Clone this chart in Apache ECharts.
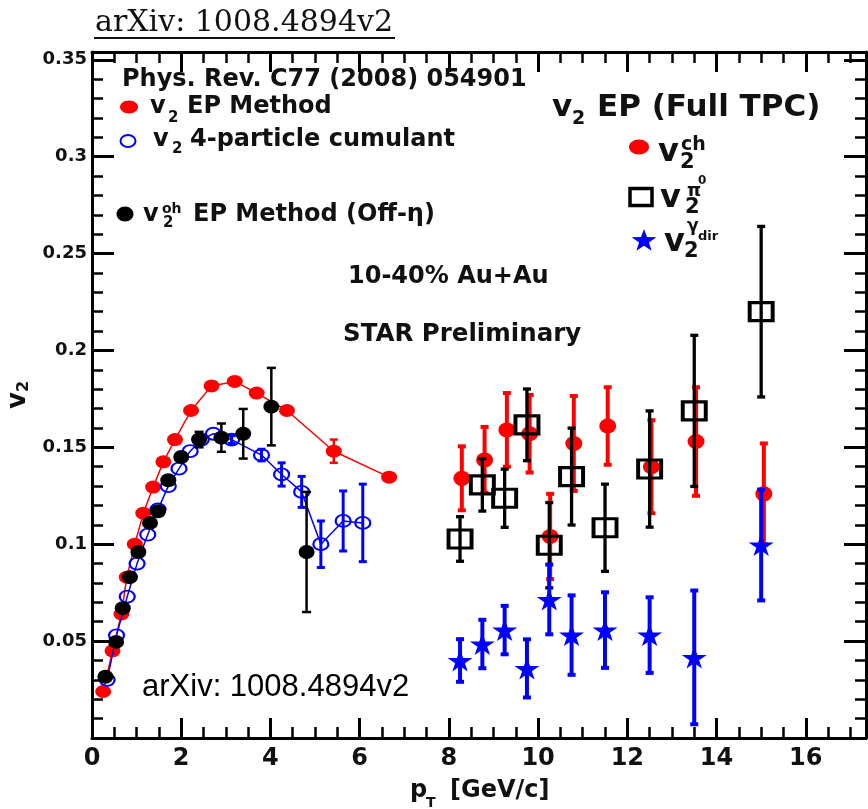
<!DOCTYPE html>
<html>
<head>
<meta charset="utf-8">
<script src="https://cdn.jsdelivr.net/npm/echarts@6/dist/echarts.min.js"></script>
<style>
  html, body { margin: 0; padding: 0; background: #fff; }
  #chart { width: 868px; height: 809px; }
</style>
</head>
<body>
<div id="chart"></div>
<script>
// v2 EP method, charged hadrons (Phys. Rev. C77 054901)
const epPt  = [0.25, 0.46, 0.66, 0.78, 0.96, 1.15, 1.37, 1.60, 1.86, 2.22, 2.68, 3.20, 3.69, 4.37, 5.42, 6.66];
const epV2  = [0.024, 0.045, 0.064, 0.083, 0.100, 0.116, 0.1295, 0.1425, 0.154, 0.169, 0.1817, 0.184, 0.178, 0.169, 0.148, 0.1346];
const epErr = [0, 0, 0, 0, 0, 0, 0, 0, 0, 0, 0, 0, 0, 0, 0.006, 0];

// v2 4-particle cumulant
const cumPt  = [0.34, 0.55, 0.79, 1.01, 1.25, 1.48, 1.71, 1.95, 2.20, 2.45, 2.72, 3.13, 3.80, 4.25, 4.70, 5.13, 5.63, 6.07];
const cumV2  = [0.030, 0.053, 0.073, 0.090, 0.105, 0.118, 0.130, 0.139, 0.148, 0.154, 0.157, 0.154, 0.146, 0.136, 0.127, 0.100, 0.112, 0.111];
const cumErr = [0, 0, 0, 0, 0, 0, 0, 0, 0, 0, 0, 0.002, 0.003, 0.006, 0.008, 0.012, 0.0155, 0.020];

// v2^oh EP method (off-eta)
const ohPt  = [0.30, 0.54, 0.69, 0.85, 1.04, 1.30, 1.48, 1.71, 2.00, 2.40, 2.90, 3.39, 4.02, 4.81];
const ohV2  = [0.0316, 0.0496, 0.067, 0.083, 0.096, 0.111, 0.117, 0.133, 0.145, 0.154, 0.155, 0.157, 0.171, 0.096];
const ohErr = [0, 0, 0, 0, 0, 0, 0, 0, 0, 0.004, 0.0073, 0.0128, 0.020, 0.031];

// v2 EP (full TPC): charged hadrons
const chPt  = [8.29, 8.80, 9.30, 9.81, 10.27, 10.80, 11.56, 12.54, 13.54, 15.06];
const chV2  = [0.134, 0.1435, 0.159, 0.157, 0.104, 0.152, 0.161, 0.140, 0.153, 0.126];
const chErr = [0.0165, 0.017, 0.019, 0.020, 0.022, 0.0245, 0.020, 0.024, 0.028, 0.026];

// v2 EP (full TPC): neutral pions
const pi0Pt  = [8.25, 8.75, 9.25, 9.75, 10.25, 10.75, 11.5, 12.5, 13.5, 15.0];
const pi0V2  = [0.1027, 0.1306, 0.1237, 0.1616, 0.0995, 0.1349, 0.1085, 0.1388, 0.1688, 0.220];
const pi0Err = [0.0115, 0.0135, 0.015, 0.0185, 0.022, 0.025, 0.0225, 0.030, 0.039, 0.044];

// v2 EP (full TPC): direct photons
const gamPt  = [8.25, 8.75, 9.25, 9.75, 10.25, 10.75, 11.5, 12.5, 13.5, 15.0];
const gamV2  = [0.040, 0.0485, 0.0557, 0.0359, 0.0715, 0.0531, 0.0557, 0.0531, 0.0416, 0.0996];
const gamErr = [0.011, 0.0125, 0.0125, 0.015, 0.018, 0.0205, 0.0195, 0.0195, 0.0345, 0.0286];

// axis ranges and tick steps
const X_MIN = 0, X_MAX = 17.35, X_MAJOR = 2, X_MINOR = 0.5;
const Y_MIN = 0, Y_MAX = 0.354, Y_MAJOR = 0.05, Y_MINOR = 0.01;

const SANS = '"DejaVu Sans"';
const RED = '#ff0000', BLUE = '#0000ff', BLACK = '#000000', INK = '#111111';
const STAR = 'path://M50,0 L61.8,35.1 L97.6,35.1 L68.5,56.8 L79.4,90.9 L50,69.5 L20.6,90.9 L31.5,56.8 L2.4,35.1 L38.2,35.1 Z';

const zip2 = (a, b) => a.map((v, i) => [v, b[i]]);
const zip3 = (a, b, c) => a.map((v, i) => [v, b[i], c[i]]);

function xAxis(pos, step, len, labels, line, tickW) {
  return {
    type: 'value', position: pos, min: X_MIN, max: X_MAX, interval: step,
    axisLine: { show: line, onZero: false, lineStyle: { color: BLACK, width: 3 } },
    axisTick: { show: true, inside: true, length: len, lineStyle: { color: BLACK, width: tickW } },
    axisLabel: {
      show: labels, showMaxLabel: false, margin: 9,
      fontFamily: SANS, fontWeight: 'bold', fontSize: 24, color: INK
    },
    splitLine: { show: false }
  };
}
function yAxis(pos, step, len, labels, line, tickW) {
  return {
    type: 'value', position: pos, min: Y_MIN, max: Y_MAX, interval: step,
    axisLine: { show: line, onZero: false, lineStyle: { color: BLACK, width: 3 } },
    axisTick: { show: true, inside: true, length: len, lineStyle: { color: BLACK, width: tickW } },
    axisLabel: {
      show: labels, showMinLabel: false, showMaxLabel: false, margin: 5,
      fontFamily: SANS, fontWeight: 'bold', fontSize: 18, color: INK
    },
    splitLine: { show: false }
  };
}

// vertical error bars with small caps
function errorBars(name, pts, vals, errs, color, width, cap, z) {
  return {
    type: 'custom', name, z,
    data: zip3(pts, vals, errs),
    encode: { x: 0, y: 1 },
    renderItem: function (params, api) {
      const x = api.value(0), y = api.value(1), e = api.value(2);
      if (!e) return null;
      const top = api.coord([x, y + e]);
      const bot = api.coord([x, y - e]);
      const st = { stroke: color, lineWidth: width };
      return {
        type: 'group',
        children: [
          { type: 'line', shape: { x1: top[0], y1: top[1], x2: bot[0], y2: bot[1] }, style: st },
          { type: 'line', shape: { x1: top[0] - cap, y1: top[1], x2: top[0] + cap, y2: top[1] }, style: st },
          { type: 'line', shape: { x1: bot[0] - cap, y1: bot[1], x2: bot[0] + cap, y2: bot[1] }, style: st }
        ]
      };
    }
  };
}

function txt(x, y, s, size, extra) {
  return {
    type: 'text', x, y, z: 100,
    style: Object.assign({
      text: s, font: 'bold ' + size + 'px ' + SANS, fill: INK,
      textAlign: 'left', textVerticalAlign: 'middle'
    }, extra || {})
  };
}
function starPoints(cx, cy, rx, ry) {
  const pts = [];
  for (let i = 0; i < 10; i++) {
    const a = -Math.PI / 2 + i * Math.PI / 5;
    const r = i % 2 === 0 ? 1 : 0.4;
    pts.push([cx + rx * r * Math.cos(a), cy + ry * r * Math.sin(a) + ry * 0.08]);
  }
  return pts;
}

const graphic = [
  // page heading
  txt(95, 23, 'arXiv: 1008.4894v2', 30, { font: 'normal 30px "DejaVu Serif"' }),
  { type: 'line', z: 100, shape: { x1: 94, y1: 38, x2: 395, y2: 38 }, style: { stroke: INK, lineWidth: 2 } },
  // reference note and left legend
  txt(122, 80, 'Phys. Rev. C77 (2008) 054901', 24),
  { type: 'ellipse', z: 100, shape: { cx: 129, cy: 107, rx: 9, ry: 6.5 }, style: { fill: RED } },
  txt(150, 107, 'v', 24), txt(168, 118, '2', 15), txt(187, 107, 'EP Method', 24),
  { type: 'ellipse', z: 100, shape: { cx: 128, cy: 141, rx: 7.5, ry: 6 }, style: { fill: 'none', stroke: BLUE, lineWidth: 2 } },
  txt(153, 140, 'v', 24), txt(172, 149, '2', 15), txt(190, 140, '4-particle cumulant', 24),
  { type: 'ellipse', z: 100, shape: { cx: 125, cy: 214, rx: 8.5, ry: 7.5 }, style: { fill: BLACK } },
  txt(143, 215, 'v', 24), txt(162, 209, 'oh', 14), txt(163, 223, '2', 15), txt(193, 215, 'EP Method (Off-\u03b7)', 24),
  // right legend
  txt(552, 108, 'v', 31), txt(572, 119, '2', 19), txt(597, 108, 'EP (Full TPC)', 31),
  { type: 'ellipse', z: 100, shape: { cx: 639, cy: 147, rx: 10, ry: 7.5 }, style: { fill: RED } },
  txt(658, 153, 'v', 32), txt(681, 145, 'ch', 19), txt(680, 163, '2', 21),
  { type: 'rect', z: 100, shape: { x: 630, y: 188.5, width: 22, height: 17 }, style: { fill: 'none', stroke: BLACK, lineWidth: 3.5 } },
  txt(660, 199, 'v', 32), txt(687, 191, '\u03c0', 18), txt(698, 181, '0', 12), txt(685, 208, '2', 21),
  { type: 'polygon', z: 100, shape: { points: starPoints(644, 240, 13, 12) }, style: { fill: BLUE } },
  txt(664, 243, 'v', 32), txt(687, 227, '\u03b3', 17), txt(698, 237, 'dir', 13), txt(684, 252, '2', 21),
  // collision system and status
  txt(348, 277, '10-40% Au+Au', 24),
  txt(343, 335, 'STAR Preliminary', 24.5),
  // identifier inside the frame
  txt(142, 687, 'arXiv: 1008.4894v2', 31, { font: 'normal 31px "Liberation Sans"', fill: BLACK }),
  // x axis title
  txt(410, 791, 'p', 24), txt(426, 803, 'T', 14), txt(450, 791, '[GeV/c]', 24)
];

const option = {
  animation: false,
  backgroundColor: '#ffffff',
  grid: { left: 92, right: 2, top: 52, bottom: 71, containLabel: false, outerBoundsMode: 'none' },
  xAxis: [
    xAxis('bottom', X_MAJOR, 20, true, true, 3),
    xAxis('bottom', X_MINOR, 11, false, false, 2.5),
    xAxis('top', X_MAJOR, 20, false, true, 3),
    xAxis('top', X_MINOR, 11, false, false, 2.5)
  ],
  yAxis: [
    Object.assign(yAxis('left', Y_MAJOR, 22, true, true, 3), {
      name: 'v{s|2}', nameLocation: 'middle', nameGap: 55, nameRotate: 90,
      nameTextStyle: {
        fontFamily: SANS, fontWeight: 'bold', fontSize: 26, color: INK,
        rich: { s: { fontFamily: SANS, fontWeight: 'bold', fontSize: 16, color: INK, verticalAlign: 'bottom' } }
      }
    }),
    yAxis('left', Y_MINOR, 11, false, false, 2.5),
    yAxis('right', Y_MAJOR, 22, false, true, 3),
    yAxis('right', Y_MINOR, 11, false, false, 2.5)
  ],
  graphic: graphic,
  series: [
    errorBars('cum-err', cumPt, cumV2, cumErr, BLUE, 3, 4, 2),
    errorBars('ep-err', epPt, epV2, epErr, RED, 2.5, 4, 2),
    {
      name: 'v2 EP Method', type: 'line', z: 3, data: zip2(epPt, epV2),
      symbol: 'circle', symbolSize: [16, 13],
      lineStyle: { color: RED, width: 1.5 }, itemStyle: { color: RED, opacity: 1 }
    },
    {
      name: 'v2 4-particle cumulant', type: 'line', z: 4, data: zip2(cumPt, cumV2),
      symbol: 'circle', symbolSize: [15, 12],
      lineStyle: { color: BLUE, width: 1.5 },
      itemStyle: { color: 'rgba(255,255,255,0)', borderColor: BLUE, borderWidth: 2, opacity: 1 }
    },
    errorBars('oh-err', ohPt, ohV2, ohErr, BLACK, 2.5, 4.5, 5),
    {
      name: 'v2oh EP Method (Off-eta)', type: 'scatter', z: 6, data: zip2(ohPt, ohV2),
      symbol: 'circle', symbolSize: [16, 14], itemStyle: { color: BLACK, opacity: 1 }
    },
    errorBars('ch-err', chPt, chV2, chErr, RED, 4, 4, 7),
    {
      name: 'v2ch', type: 'scatter', z: 8, data: zip2(chPt, chV2),
      symbol: 'circle', symbolSize: [17, 15], itemStyle: { color: RED, opacity: 1 }
    },
    errorBars('pi0-err', pi0Pt, pi0V2, pi0Err, BLACK, 3.3, 4, 9),
    {
      name: 'v2pi0', type: 'scatter', z: 10, data: zip2(pi0Pt, pi0V2),
      symbol: 'rect', symbolSize: [23, 18],
      itemStyle: { color: 'rgba(255,255,255,0)', borderColor: BLACK, borderWidth: 3.5, opacity: 1 }
    },
    errorBars('gam-err', gamPt, gamV2, gamErr, BLUE, 4, 4, 11),
    {
      name: 'v2gamma', type: 'scatter', z: 12, data: zip2(gamPt, gamV2),
      symbol: STAR, symbolSize: [25, 22], itemStyle: { color: BLUE, opacity: 1 }
    }
  ]
};

const chart = echarts.init(document.getElementById('chart'), null, { renderer: 'canvas' });
chart.setOption(option);
</script>
</body>
</html>
